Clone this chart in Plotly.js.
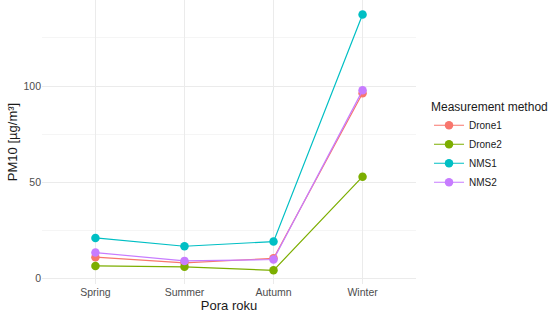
<!DOCTYPE html>
<html>
<head>
<meta charset="utf-8">
<script src="https://cdn.plot.ly/plotly-3.0.1.min.js"></script>
<style>html,body{margin:0;padding:0;background:#fff;}#chart{width:550px;height:318px;}</style>
</head>
<body>
<div id="chart"></div>
<script>
var seasons = ["Spring", "Summer", "Autumn", "Winter"];
var seriesNames = ["Drone1", "Drone2", "NMS1", "NMS2"];
var drone1 = [11.2, 8.3, 10.6, 96.3];
var drone2 = [6.7, 6.2, 4.4, 53.0];
var nms1 = [21.2, 16.9, 19.3, 137.2];
var nms2 = [13.6, 9.3, 10.0, 97.8];
var colors = ["#F8766D", "#7CAE00", "#00BFC4", "#C77CFF"];
var values = [drone1, drone2, nms1, nms2];

var traces = values.map(function (v, i) {
  return {
    x: seasons, y: v, name: seriesNames[i], type: "scatter", mode: "lines+markers",
    line: {color: colors[i], width: 1.2},
    marker: {color: colors[i], size: 8.5}
  };
});

var layout = {
  width: 550, height: 318,
  margin: {l: 42, r: 130, t: 0, b: 34},
  paper_bgcolor: "#fff", plot_bgcolor: "#fff",
  font: {family: "Liberation Sans, Arial, sans-serif", color: "#4D4D4D", size: 10},
  showlegend: true,
  legend: {
    x: 1.035, xanchor: "left", y: 0.665, yanchor: "top",
    title: {text: "Measurement method", font: {size: 12, color: "#1a1a1a"}},
    font: {size: 10, color: "#1a1a1a"},
    tracegroupgap: 0, itemwidth: 30
  },
  xaxis: {
    type: "category", range: [-0.6, 3.6],
    showgrid: true, gridcolor: "#EBEBEB", gridwidth: 1,
    zeroline: false, showline: false, ticks: "",
    tickfont: {size: 10.5, color: "#4D4D4D"},
    title: {text: "Pora roku", font: {size: 13, color: "#1a1a1a"}, standoff: 4}
  },
  yaxis: {
    range: [-2.7, 144.7],
    tickvals: [0, 50, 100],
    showgrid: true, gridcolor: "#EBEBEB", gridwidth: 1,
    minor: {tickvals: [25, 75, 125], showgrid: true, gridcolor: "#F2F2F2", gridwidth: 0.8, ticks: ""},
    zeroline: false, showline: false, ticks: "",
    tickfont: {size: 10.5, color: "#4D4D4D"},
    title: {text: "PM10 [µg/m³]", font: {size: 13, color: "#1a1a1a"}, standoff: 2}
  }
};

Plotly.newPlot("chart", traces, layout, {displayModeBar: false, staticPlot: true});
</script>
</body>
</html>
